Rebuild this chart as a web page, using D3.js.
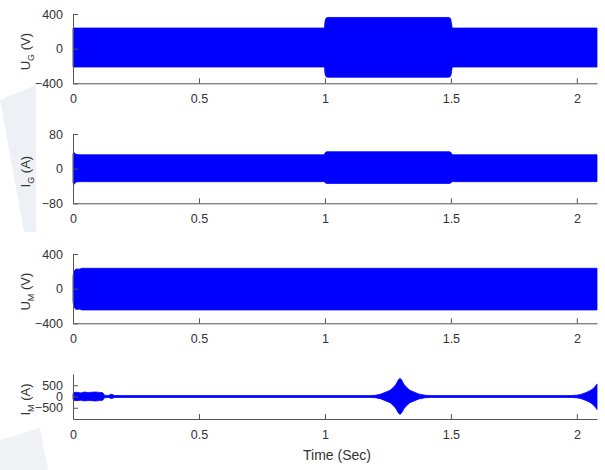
<!DOCTYPE html>
<html><head><meta charset="utf-8">
<script src="https://cdn.jsdelivr.net/npm/d3@7"></script>
<style>body{margin:0;background:#fff} svg{display:block}</style>
</head><body><svg id="c" width="605" height="470"></svg>
<script>
// ---- data ----
const xTicks = [0, 0.5, 1, 1.5, 2];
const xTickLabels = ["0", "0.5", "1", "1.5", "2"];
const xLabel = "Time (Sec)";
const xMax = 2.08;

// U_G envelope (V)
const ugTime  = [0, 0.998, 1.0, 1.004, 1.012, 1.49, 1.498, 1.502, 1.506, 2.08];
const ugUpper = [238, 238, 300, 350, 360, 360, 352, 300, 238, 238];
const ugLower = [-212, -212, -280, -322, -330, -330, -322, -280, -212, -212];

// I_G envelope (A)
const igTime  = [0, 0.004, 0.012, 0.03, 0.998, 1.0, 1.008, 1.495, 1.502, 1.506, 2.08];
const igUpper = [34, 37, 33, 32, 32, 36, 39, 39, 36, 32, 32];
const igLower = [-32, -36, -31, -30, -30, -32, -34, -34, -32, -30, -30];

// U_M envelope (V)
const umTime  = [0, 0.003, 0.008, 0.015, 0.025, 0.035, 0.05, 2.08];
const umUpper = [140, 190, 215, 228, 225, 235, 235, 235];
const umLower = [-140, -200, -228, -240, -236, -246, -246, -246];

// I_M envelope (A)
const imTime  = [0, 0.003, 0.015, 0.03, 0.045, 0.06, 0.075, 0.09, 0.105, 0.118, 0.125, 0.14, 0.153, 0.165, 0.2,
                 1.18, 1.22, 1.24, 1.26, 1.28, 1.298, 1.316, 1.336, 1.356, 1.376, 1.42,
                 1.96, 2.0, 2.03, 2.05, 2.065, 2.075, 2.08];
const imUpper = [100, 170, 190, 160, 200, 175, 190, 200, 180, 170, 60, 45, 100, 45, 40,
                 40, 100, 190, 290, 510, 800, 510, 290, 190, 100, 40,
                 40, 60, 150, 250, 360, 480, 560];
const imLower = [-100, -170, -185, -170, -195, -180, -185, -200, -175, -165, -60, -45, -90, -45, -40,
                 -40, -100, -190, -290, -510, -790, -510, -290, -190, -100, -40,
                 -40, -60, -150, -250, -370, -500, -580];

const panelLabels = [["U", "G", " (V)"], ["I", "G", " (A)"], ["U", "M", " (V)"], ["I", "M", " (A)"]];
const yDomains = [[-400, 400], [-80, 80], [-400, 400], [-1000, 1000]];
const yTickVals = [[-400, 0, 400], [-80, 0, 80], [-400, 0, 400], [-500, 0, 500]];
const series = [
  {t: ugTime, hi: ugUpper, lo: ugLower},
  {t: igTime, hi: igUpper, lo: igLower},
  {t: umTime, hi: umUpper, lo: umLower},
  {t: imTime, hi: imUpper, lo: imLower}
];

// ---- layout ----
const svg = d3.select("#c");
const panelTop = [14, 134, 254, 374];
const panelBot = [83.3, 203.3, 323.3, 419];
const x = d3.scaleLinear().domain([0, xMax]).range([73, 597]);
const axisColor = "#555";
const textColor = "#333";
const font = "'Liberation Sans', Arial, sans-serif";

// faint watermark shapes
svg.append("polygon").attr("points", "0,100 36,85 36,232 24,232").attr("fill", "#edf0f4");
svg.append("polygon").attr("points", "0,440 40,428 48,470 0,470").attr("fill", "#f0f2f5");

series.forEach((s, i) => {
  const y = d3.scaleLinear().domain(yDomains[i]).range([panelBot[i], panelTop[i]]);
  const data = s.t.map((t, j) => ({t, hi: s.hi[j], lo: s.lo[j]}));
  const area = d3.area()
    .x(d => x(d.t)).y0(d => y(d.lo)).y1(d => y(d.hi))
    .curve(d3.curveMonotoneX);
  svg.append("path").datum(data).attr("d", area).attr("fill", "#0000ff").attr("stroke", "#0000ff").attr("stroke-width", 0.8);

  const gy = svg.append("g").attr("transform", `translate(${x(0)},0)`)
    .call(d3.axisLeft(y).tickValues(yTickVals[i]).tickFormat(d3.format("d")).tickSizeInner(-5).tickSizeOuter(0).tickPadding(10));
  const gx = svg.append("g").attr("transform", `translate(0,${panelBot[i]})`)
    .call(d3.axisBottom(x).tickValues(xTicks).tickFormat((d, k) => xTickLabels[k]).tickSizeInner(-5).tickSizeOuter(0).tickPadding(11));
  [gy, gx].forEach(g => {
    g.select(".domain").attr("stroke", axisColor);
    g.selectAll(".tick line").attr("stroke", axisColor);
    g.selectAll(".tick text").attr("fill", textColor).style("font-family", font).style("font-size", "12.5px");
  });

  const cy = (panelTop[i] + panelBot[i]) / 2 + 3;
  const lab = svg.append("text")
    .attr("transform", `translate(30,${cy}) rotate(-90)`)
    .attr("text-anchor", "middle")
    .attr("fill", textColor)
    .style("font-family", font).style("font-size", "13px");
  lab.append("tspan").text(panelLabels[i][0]);
  lab.append("tspan").attr("dy", 4).style("font-size", "9px").text(panelLabels[i][1]);
  lab.append("tspan").attr("dy", -4).text(panelLabels[i][2]);
});

svg.append("text").attr("x", 337).attr("y", 460).attr("text-anchor", "middle")
  .attr("fill", textColor).style("font-family", font).style("font-size", "14px").text(xLabel);
</script></body></html>
